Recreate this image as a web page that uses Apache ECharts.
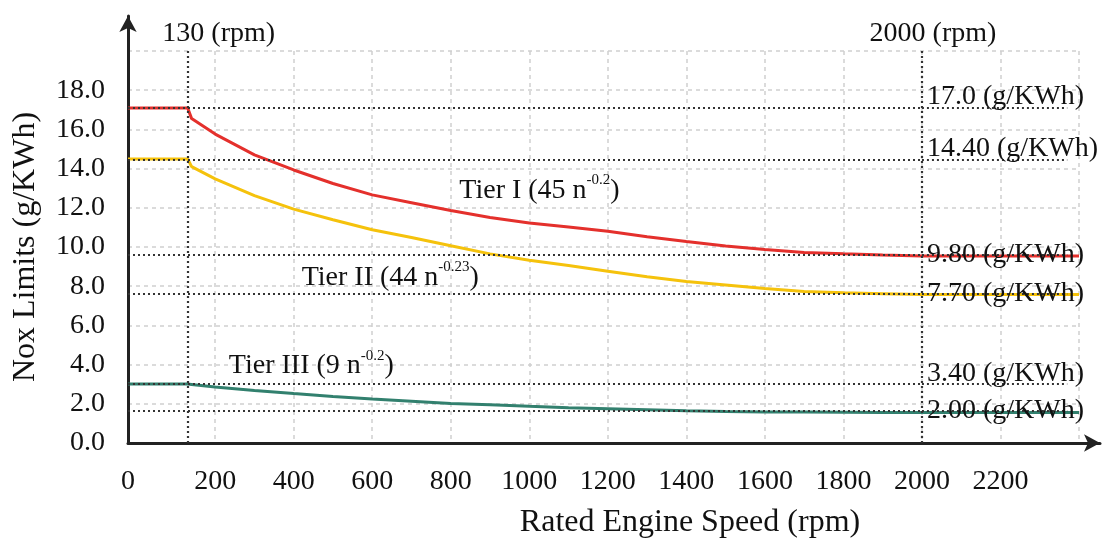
<!DOCTYPE html>
<html><head><meta charset="utf-8">
<script src="https://cdn.jsdelivr.net/npm/echarts@6/dist/echarts.min.js"></script>
<style>html,body{margin:0;padding:0;background:#fff}#c{width:1113px;height:549px}</style>
</head><body><div id="c"></div>
<script>
// ---- data ----
const X_MIN = -22;   // axis origin sits a little left of 0 rpm in the reference
const X_MAX = 2400;
const rpm     = [-22, 130, 140, 200, 300, 400, 500, 600, 700, 800, 900, 1000, 1100, 1200, 1300, 1400, 1500, 1600, 1700, 1800, 1900, 2000, 2400];
const tierI   = [17.09, 17.09, 16.55, 15.76, 14.70, 13.93, 13.24, 12.66, 12.26, 11.86, 11.51, 11.23, 11.02, 10.80, 10.52, 10.28, 10.05, 9.87, 9.72, 9.65, 9.59, 9.54, 9.54];
const tierII  = [14.49, 14.49, 14.10, 13.48, 12.62, 11.93, 11.39, 10.88, 10.48, 10.06, 9.65, 9.32, 9.06, 8.76, 8.48, 8.24, 8.06, 7.88, 7.73, 7.66, 7.62, 7.58, 7.58];
const tierIII = [3.01, 3.01, 2.99, 2.86, 2.68, 2.52, 2.37, 2.24, 2.13, 2.02, 1.95, 1.87, 1.80, 1.75, 1.70, 1.65, 1.61, 1.58, 1.58, 1.57, 1.56, 1.56, 1.56];
const xGridValues  = [200, 400, 600, 800, 1000, 1200, 1400, 1600, 1800, 2000, 2200, 2400];
const xLabelValues = [200, 400, 600, 800, 1000, 1200, 1400, 1600, 1800, 2000, 2200];
const refValues = [17.09, 14.44, 9.59, 7.60, 3.00, 1.63];
const refLabels = ['17.0 (g/KWh)', '14.40 (g/KWh)', '9.80 (g/KWh)', '7.70 (g/KWh)', '3.40 (g/KWh)', '2.00 (g/KWh)'];
const refLabelAbove = [true, true, false, false, true, false];
const rpmMarks = [130, 2000];
const rpmMarkLabels = ['130 (rpm)', '2000 (rpm)'];
const tierNames = ['Tier I', 'Tier II', 'Tier III'];
const tierLabelText = ['Tier I (45 n{s|-0.2})', 'Tier II (44 n{s|-0.23})', 'Tier III (9 n{s|-0.2})'];

// ---- styling / layout ----
const FONT = "'Liberation Serif', 'Times New Roman', serif";
const colors = ['#E4302C', '#F5C20C', '#32806E'];
const tierLabelAt = [[1026, 12.90], [646, 8.45], [445, 3.93]];
const refLineEnd = 2370;
const dark = { color: '#333', width: 2.2, type: [2, 3] };

const zip = (xs, ys) => xs.map((x, i) => [x, ys[i]]);

const refLineData = [];
refValues.forEach((v, i) => {
  refLineData.push([
    { coord: [X_MIN, v],
      label: { show: true, position: 'end', distance: 5,
               formatter: (refLabelAbove[i] ? '{up|' : '{mid|') + refLabels[i] + '}',
               rich: {
                 up:  { fontFamily: FONT, fontSize: 28, color: '#111', padding: [0, 0, 22, 0] },
                 mid: { fontFamily: FONT, fontSize: 28, color: '#111' }
               } } },
    { coord: [2000, v] }
  ]);
  refLineData.push([{ coord: [2000, v], label: { show: false } }, { coord: [refLineEnd, v] }]);
});
rpmMarks.forEach((r, i) => {
  refLineData.push([
    { coord: [r, 0],
      label: { show: true, position: 'end', distance: 3, formatter: rpmMarkLabels[i],
               fontFamily: FONT, fontSize: 28, color: '#111',
               padding: [0, 0, 0, i === 0 ? 62 : 22] } },
    { coord: [r, 20] }
  ]);
});

const series = [
  { type: 'line', name: 'ref', data: [], xAxisIndex: 0, yAxisIndex: 0, silent: true,
    markLine: { symbol: 'none', silent: true, animation: false, lineStyle: dark, data: refLineData } }
];
[tierI, tierII, tierIII].forEach((vals, i) => {
  series.push({
    type: 'line', name: tierNames[i], data: zip(rpm, vals), xAxisIndex: 0, yAxisIndex: 0,
    showSymbol: false, smooth: false, z: 3,
    lineStyle: { color: colors[i], width: 3 }, itemStyle: { color: colors[i] }
  });
  series.push({
    type: 'scatter', name: tierNames[i] + ' label', data: [tierLabelAt[i]], xAxisIndex: 0, yAxisIndex: 0,
    symbolSize: 1, itemStyle: { color: 'rgba(0,0,0,0)', opacity: 1 }, silent: true, z: 4,
    label: { show: true, position: 'inside', formatter: tierLabelText[i],
             fontFamily: FONT, fontSize: 28, color: '#111', opacity: 1,
             rich: { s: { fontFamily: FONT, fontSize: 15, color: '#111', padding: [0, 0, 20, 0] } } }
  });
});

const option = {
  animation: false,
  backgroundColor: '#fff',
  grid: [
    { left: 128, right: 34, top: 51, bottom: 106 },
    { left: 128, right: 13, top: 16, bottom: 106 }
  ],
  xAxis: [
    { type: 'value', gridIndex: 0, min: X_MIN, max: X_MAX,
      name: 'Rated Engine Speed (rpm)', nameLocation: 'middle', nameGap: 64,
      nameTextStyle: { fontFamily: FONT, fontSize: 32, color: '#111', padding: [0, 0, 0, 173] },
      axisLine: { show: false },
      axisTick: { show: false, customValues: xGridValues },
      axisLabel: { customValues: [X_MIN].concat(xLabelValues), margin: 25,
                   formatter: v => (v <= 0 ? '0' : String(v)),
                   fontFamily: FONT, fontSize: 28, color: '#111' },
      splitLine: { show: true, lineStyle: { color: '#cfcfcf', width: 1.5, type: [4, 4] } } },
    { type: 'value', gridIndex: 1, min: 0, max: 1,
      axisLine: { show: true, onZero: false, symbol: ['none', 'arrow'], symbolSize: [13, 16],
                  lineStyle: { color: '#222', width: 3 } },
      axisTick: { show: false }, axisLabel: { show: false }, splitLine: { show: false } }
  ],
  yAxis: [
    { type: 'value', gridIndex: 0, min: 0, max: 20, interval: 2,
      name: 'Nox Limits (g/KWh)', nameLocation: 'middle', nameGap: 86,
      nameTextStyle: { fontFamily: FONT, fontSize: 32, color: '#111' },
      axisLine: { show: false }, axisTick: { show: false },
      axisLabel: { margin: 23, fontFamily: FONT, fontSize: 28, color: '#111',
                   formatter: v => (v >= 20 ? '' : v.toFixed(1)) },
      splitLine: { show: true, lineStyle: { color: '#cfcfcf', width: 1.5, type: [4, 4] } } },
    { type: 'value', gridIndex: 1, min: 0, max: 1,
      axisLine: { show: true, onZero: false, symbol: ['none', 'arrow'], symbolSize: [13, 16],
                  lineStyle: { color: '#222', width: 3 } },
      axisTick: { show: false }, axisLabel: { show: false }, splitLine: { show: false } }
  ],
  series: series
};

const chart = echarts.init(document.getElementById('c'), null, { renderer: 'canvas' });
chart.setOption(option);
</script>
</body></html>
